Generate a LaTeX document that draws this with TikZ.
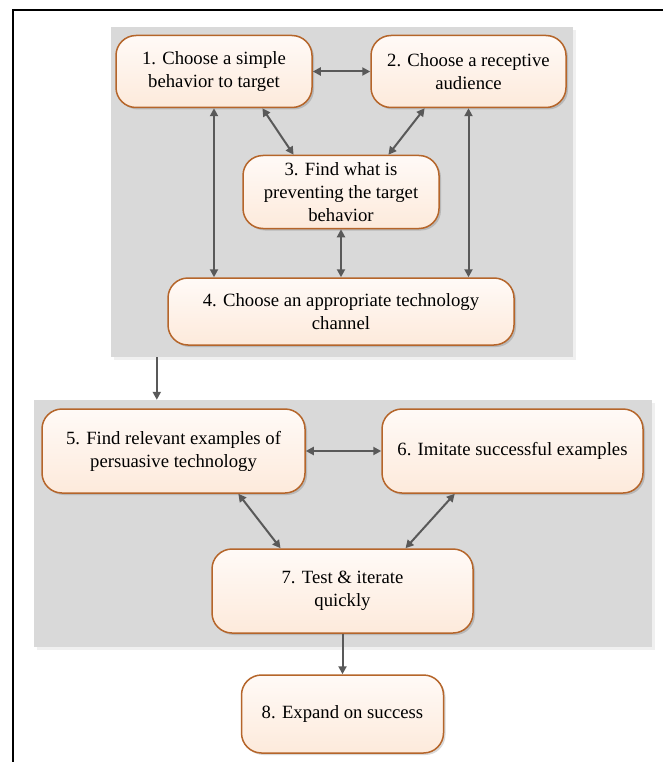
\documentclass[tikz,border=0pt]{standalone}
\usepackage{fontspec}
\setmainfont{Liberation Serif}
\newfontfamily\boxfont{Liberation Serif}
\usetikzlibrary{arrows.meta,shadows,calc}
\definecolor{panelgray}{HTML}{D9D9D9}
\definecolor{boxborder}{HTML}{B5652A}
\definecolor{boxtop}{HTML}{FFFAF7}
\definecolor{boxbottom}{HTML}{FDEADB}
\definecolor{arrowgray}{HTML}{595959}
\tikzset{
  panel/.style={fill=panelgray, draw=none, inner sep=0pt,
    drop shadow={shadow xshift=3pt, shadow yshift=-3pt, fill=black, opacity=0.06}},
  stepbox/.style={draw=boxborder, line width=1.5pt, rounded corners=20pt,
    top color=boxtop, bottom color=boxbottom, align=center, inner sep=0pt,
    font=\boxfont\fontsize{18.7}{23}\selectfont,
    drop shadow={shadow xshift=2pt, shadow yshift=-2pt, fill=black, opacity=0.15}},
  link/.style={draw=arrowgray, line width=2pt,
    {Triangle[length=8pt,width=8pt]}-{Triangle[length=8pt,width=8pt]}},
  onelink/.style={draw=arrowgray, line width=2pt, -{Triangle[length=8pt,width=8pt]}},
}
\begin{document}
\begin{tikzpicture}[x=1pt,y=-1pt]
\useasboundingbox (0,0) rectangle (663,762);
% outer frame
\draw[line width=2pt, black] (13,762) -- (13,10) -- (663,10);
% panels
\node[panel, minimum width=462pt, minimum height=330pt] (p1) at (342,192) {};
\node[panel, minimum width=618pt, minimum height=247pt] (p2) at (343,523.5) {};
% boxes
\node[stepbox, minimum width=196pt, minimum height=72pt] (b1) at (214,71.5) {1. Choose a simple\\behavior to target};
\node[stepbox, minimum width=195pt, minimum height=72pt] (b2) at (468.5,71.5) {2. Choose a receptive\\audience};
\node[stepbox, minimum width=196pt, minimum height=73pt] (b3) at (341,192) {3. Find what is\\preventing the target\\behavior};
\node[stepbox, minimum width=346pt, minimum height=67pt] (b4) at (341,311.5) {4. Choose an appropriate technology\\channel};
\node[stepbox, minimum width=263pt, minimum height=84pt] (b5) at (173.5,451) {5. Find relevant examples of\\persuasive technology};
\node[stepbox, minimum width=261pt, minimum height=84pt] (b6) at (512.5,451) {6. Imitate successful examples};
\node[stepbox, minimum width=261pt, minimum height=84pt] (b7) at (342.5,591) {7. Test \& iterate\\quickly};
\node[stepbox, minimum width=202pt, minimum height=78pt] (b8) at (342.5,714) {8. Expand on success};
% connectors, panel 1
\draw[link] (b1.east) -- (b2.west);
\draw[link] (b1.south) -- (b1.south |- b4.north);
\draw[link] (b2.south) -- (b2.south |- b4.north);
\draw[link] (b3.south) -- (b3.south |- b4.north);
\draw[link] ($(b1.south west)!0.745!(b1.south east)$) -- ($(b3.north west)!0.26!(b3.north east)$);
\draw[link] ($(b2.south west)!0.277!(b2.south east)$) -- ($(b3.north west)!0.74!(b3.north east)$);
% between panels
\coordinate (pa) at ($(p1.south west)+(46,0)$);
\coordinate (pb) at ($(p2.north west)+(123,0)$);
\draw[onelink] (pa) -- (pb);
% connectors, panel 2
\draw[link] (b5.east) -- (b6.west);
\draw[link] ($(b5.south west)!0.745!(b5.south east)$) -- ($(b7.north west)!0.264!(b7.north east)$);
\draw[link] ($(b6.south west)!0.28!(b6.south east)$) -- ($(b7.north west)!0.74!(b7.north east)$);
\draw[onelink] (b7.south) -- (b8.north);
\end{tikzpicture}
\end{document}
